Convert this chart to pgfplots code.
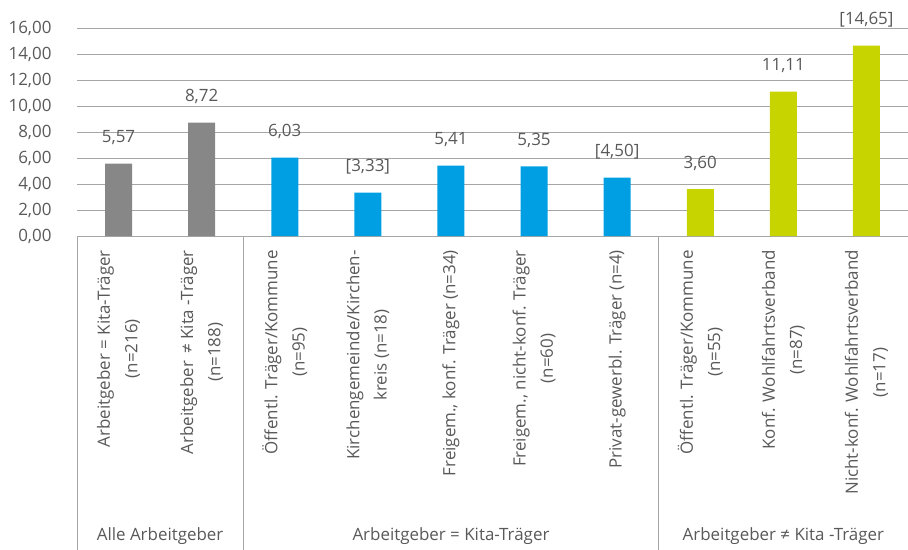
\documentclass[border=0pt]{standalone}
\usepackage{pgfplots}
\usepackage{pgfplotstable}
\pgfplotsset{compat=1.18}
\usepackage{fontspec}
\setmainfont{Open Sans}

\definecolor{txt}{RGB}{89,89,89}
\definecolor{gridc}{RGB}{166,166,166}
\definecolor{cgray}{RGB}{135,135,135}
\definecolor{cblue}{RGB}{0,159,227}
\definecolor{cgreen}{RGB}{200,212,0}

\pgfplotstableread{
x y label
0 5.57 5,57
1 8.72 8,72
}\alle
\pgfplotstableread{
x y label
2 6.03 6,03
3 3.33 [3,33]
4 5.41 5,41
5 5.35 5,35
6 4.50 [4,50]
}\gleich
\pgfplotstableread{
x y label
7 3.60 3,60
8 11.11 11,11
9 14.65 [14,65]
}\ungleich

\begin{document}
\begin{tikzpicture}
\begin{axis}[
  scale only axis,
  width=831bp, height=208bp,
  xmin=-0.5, xmax=9.5,
  ymin=0, ymax=16,
  ytick={0,2,...,16},
  axis line style={draw=none},
  ymajorgrids=true,
  grid style={gridc, line width=0.8bp},
  major tick length=0pt,
  clip=false,
  font=\fontsize{17}{27.5}\selectfont,
  every tick label/.append style={txt},
  /pgf/number format/.cd, use comma, fixed, fixed zerofill, precision=2, assume math mode=true,
  /pgfplots/.cd,
  yticklabel style={xshift=-22bp},
  xtick={0,...,9},
  xticklabels={
    {Arbeitgeber = Kita-Träger\\(n=216)},
    {Arbeitgeber \,≠ Kita -Träger\\(n=188)},
    {Öffentl. Träger/Kommune\\(n=95)},
    {Kirchengemeinde/Kirchen-\\kreis (n=18)},
    {Freigem., konf. Träger (n=34)},
    {Freigem., nicht-konf. Träger\\(n=60)},
    {Privat-gewerbl. Träger (n=4)},
    {Öffentl. Träger/Kommune\\(n=55)},
    {Konf. Wohlfahrtsverband\\(n=87)},
    {Nicht-konf. Wohlfahrtsverband\\(n=17)}},
  xticklabel shift=14bp,
  xticklabel style={rotate=90, anchor=east, align=center, inner sep=0pt},
  ybar, bar width=27bp, bar shift=0pt,
  nodes near coords,
  point meta=explicit symbolic,
  every node near coord/.append style={txt, anchor=center, yshift=26bp},
]
\addplot[fill=cgray, draw=none] table[x=x, y=y, meta=label] {\alle};
\addplot[fill=cblue, draw=none] table[x=x, y=y, meta=label] {\gleich};
\addplot[fill=cgreen, draw=none] table[x=x, y=y, meta=label] {\ungleich};

\draw[gridc, line width=0.8bp] (axis cs:-0.5,0) -- ([yshift=-314bp]axis cs:-0.5,0);
\draw[gridc, line width=0.8bp] (axis cs:1.5,0) -- ([yshift=-314bp]axis cs:1.5,0);
\draw[gridc, line width=0.8bp] (axis cs:6.5,0) -- ([yshift=-314bp]axis cs:6.5,0);
\node[txt] at ([yshift=-300bp]axis cs:0.5,0) {Alle Arbeitgeber};
\node[txt] at ([yshift=-300bp]axis cs:4,0) {Arbeitgeber = Kita-Träger};
\node[txt] at ([yshift=-300bp]axis cs:8,0) {Arbeitgeber ≠ Kita -Träger};
\coordinate (bl) at (rel axis cs:0,0);
\end{axis}
\pgfresetboundingbox
\path[use as bounding box] ([shift={(-77bp,-314bp)}]bl) rectangle ([shift={(831bp,236bp)}]bl);
\end{tikzpicture}
\end{document}
